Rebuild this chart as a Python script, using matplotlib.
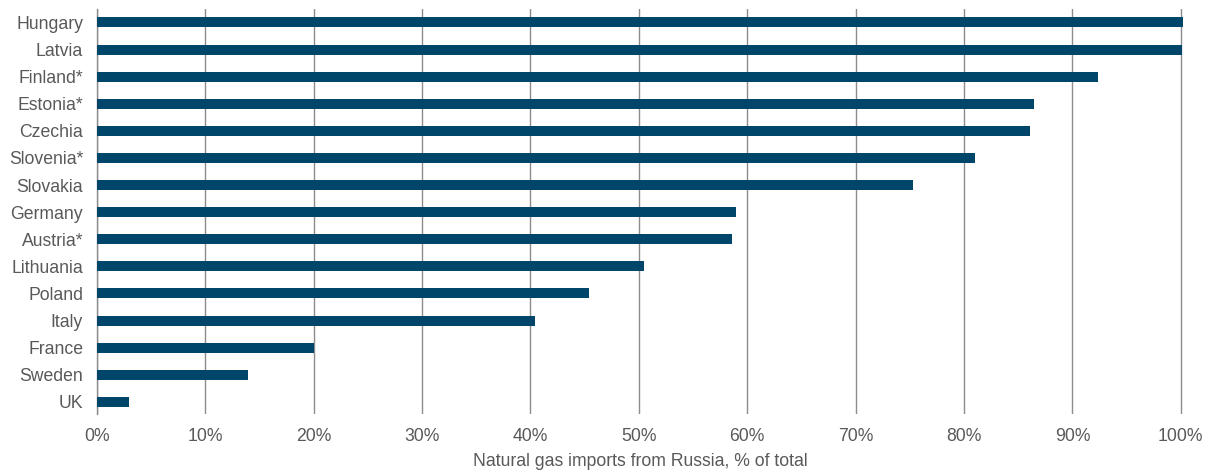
import matplotlib
matplotlib.use("Agg")
import matplotlib.pyplot as plt
from matplotlib.ticker import PercentFormatter

# share of natural gas imports coming from Russia, % of total
countries = ["Hungary", "Latvia", "Finland*", "Estonia*", "Czechia", "Slovenia*",
             "Slovakia", "Germany", "Austria*", "Lithuania", "Poland", "Italy",
             "France", "Sweden", "UK"]
shares = [100.2, 100.1, 92.4, 86.5, 86.1, 81.0, 75.3, 59.0, 58.6, 50.5, 45.4,
          40.4, 20.0, 13.9, 3.0]
ticks = list(range(0, 101, 10))

plt.rcParams["font.family"] = ["Liberation Sans", "DejaVu Sans"]

fig = plt.figure(figsize=(12.06, 4.70), dpi=100)
ax = fig.add_axes([0.0804, 0.119, 0.9014, 0.862])

ax.barh(countries, shares, height=0.37, color="#00466a", zorder=3)
ax.set_ylim(len(countries) - 0.55, -0.5)
ax.set_xlim(0, 100.3)

ax.set_xticks(ticks)
ax.xaxis.set_major_formatter(PercentFormatter(decimals=0))
ax.grid(axis="x", color="#8c8c8c", linewidth=1, zorder=0)
for s in ["top", "right", "bottom"]:
    ax.spines[s].set_visible(False)
ax.spines["left"].set_color("#8c8c8c")
ax.spines["left"].set_linewidth(1)

ax.tick_params(axis="both", length=0, labelsize=12.7, labelcolor="#595959")
ax.tick_params(axis="x", pad=10)
ax.tick_params(axis="y", pad=10)

ax.set_xlabel("Natural gas imports from Russia, % of total", fontsize=12.7,
              color="#595959", labelpad=6)

fig.savefig("out.png", dpi=100)
